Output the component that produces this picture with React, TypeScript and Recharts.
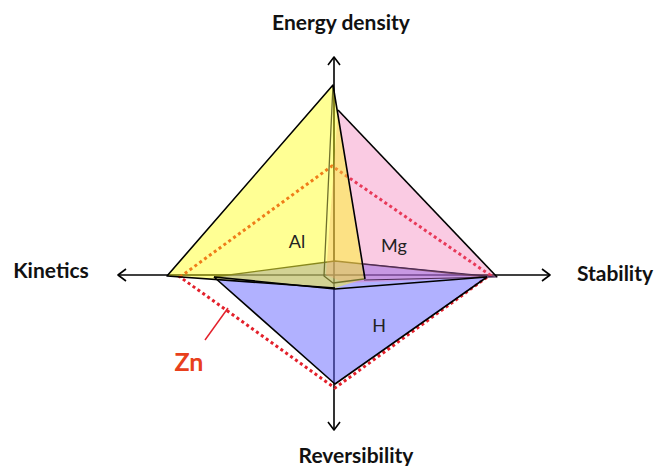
import React from 'react';
import { ScatterChart, Scatter, XAxis, YAxis } from 'recharts';

type Pt = { x: number; y: number };

// origin = crossing of the four axes, one unit = one pixel, y points up
const axisUp: Pt[] = [{ x: 0, y: 218 }, { x: 0, y: 0 }];
const axisDown: Pt[] = [{ x: 0, y: 0 }, { x: 0, y: -155 }];
const axisLeft: Pt[] = [{ x: -216, y: 0 }, { x: 0, y: 0 }];
const axisRight: Pt[] = [{ x: 0, y: 0 }, { x: 216, y: 0 }];
const arrowUp: Pt[] = [{ x: -6, y: 210 }, { x: 0, y: 218 }, { x: 6, y: 210 }];
const arrowDown: Pt[] = [{ x: -6, y: -147 }, { x: 0, y: -155 }, { x: 6, y: -147 }];
const arrowLeft: Pt[] = [{ x: -208, y: 6 }, { x: -216, y: 0 }, { x: -208, y: -6 }];
const arrowRight: Pt[] = [{ x: 208, y: 6 }, { x: 216, y: 0 }, { x: 208, y: -6 }];

// Zn: kinetics, energy density, stability, reversibility
const zn: Pt[] = [
  { x: -154, y: -2 },
  { x: -2, y: 109 },
  { x: 156, y: 0 },
  { x: 1, y: -113 },
];
const znPointer: Pt[] = [{ x: -106, y: -33 }, { x: -129, y: -65 }];

// H
const hBody: Pt[] = [
  { x: -120, y: -2 },
  { x: 1, y: 14 },
  { x: 153, y: -2 },
  { x: 1, y: -109 },
];
const hTop: Pt[] = [{ x: -120, y: -2 }, { x: 1, y: 14 }, { x: 153, y: -2 }];
const hFront: Pt[] = [{ x: -120, y: -2 }, { x: 1, y: -14 }, { x: 153, y: -2 }];
const hBottom: Pt[] = [{ x: -120, y: -2 }, { x: 1, y: -109 }, { x: 153, y: -2 }];

// Mg
const mgBody: Pt[] = [
  { x: 4, y: 165 },
  { x: 163, y: -2 },
  { x: 11, y: -8 },
  { x: -8, y: 0 },
];
const mgOuter: Pt[] = [{ x: 4, y: 165 }, { x: 163, y: -2 }];
const mgBase: Pt[] = [{ x: 30, y: 11 }, { x: 163, y: -2 }, { x: 30, y: -5 }];

// Al
const alBody: Pt[] = [
  { x: -167, y: -1 },
  { x: -1, y: 190 },
  { x: 30, y: -4 },
  { x: 1, y: -13 },
];
const alOuter: Pt[] = [{ x: 1, y: -13 }, { x: -167, y: -1 }, { x: -1, y: 190 }, { x: 31, y: -4 }];
const alSpike: Pt[] = [{ x: -1, y: 190 }, { x: -10, y: -1 }, { x: -1, y: -8 }, { x: 30, y: -4 }];

const axisTitles = [
  { x: 7, y: 245, label: 'Energy density' },
  { x: -283, y: -3, label: 'Kinetics' },
  { x: 281, y: -6, label: 'Stability' },
  { x: 22, y: -188, label: 'Reversibility' },
];
const seriesNames = [
  { x: -37, y: 27, label: 'Al' },
  { x: 60, y: 23, label: 'Mg' },
  { x: 45, y: -57, label: 'H' },
];
const znName = [{ x: -145, y: -96, label: 'Zn' }];

const Hidden = () => <g />;

function poly(style: React.SVGProps<SVGPolygonElement>, closed = false) {
  return (p: any) => {
    const pts = (p.points || []).map((q: Pt) => `${q.x},${q.y}`).join(' ');
    return closed ? (
      <polygon points={pts} {...style} />
    ) : (
      <polyline points={pts} fill="none" strokeLinejoin="round" {...style} />
    );
  };
}

function textShape(style: React.SVGProps<SVGTextElement>) {
  return (p: any) => (
    <text x={p.cx} y={p.cy} textAnchor="middle" {...style}>
      {p.payload?.label}
    </text>
  );
}

const black = { stroke: '#000', strokeWidth: 1.6 };
const olive = { stroke: '#6f6f2c', strokeWidth: 1.3 };

export default function App() {
  const items: [Pt[], any][] = [
    [axisUp, poly(black)],
    [axisDown, poly(black)],
    [axisLeft, poly(black)],
    [axisRight, poly(black)],
    [arrowUp, poly(black)],
    [arrowDown, poly(black)],
    [arrowLeft, poly(black)],
    [arrowRight, poly(black)],
    [zn, poly({ fill: 'none', stroke: '#e3202b', strokeWidth: 3, strokeDasharray: '3 3' }, true)],
    [hBody, poly({ fill: '#6464ff', fillOpacity: 0.5, stroke: 'none' }, true)],
    [hTop, poly({ stroke: '#333', strokeWidth: 1.3 })],
    [mgBody, poly({ fill: '#f06ab0', fillOpacity: 0.35, stroke: 'none' }, true)],
    [mgBase, poly({ stroke: '#4a2a55', strokeWidth: 1.2 })],
    [mgOuter, poly(black)],
    [alBody, poly({ fill: '#ffff00', fillOpacity: 0.42, stroke: 'none' }, true)],
    [alSpike, poly(olive)],
    [alOuter, poly(black)],
    [hFront, poly(black)],
    [hBottom, poly(black)],
    [znPointer, poly({ stroke: '#e3202b', strokeWidth: 1.5 })],
  ];

  return (
    <div style={{ position: 'absolute', left: 0, top: 0, width: 660, height: 466, background: '#fff' }}>
      <ScatterChart width={660} height={466} margin={{ top: 0, right: 0, bottom: 0, left: 0 }}>
        <XAxis type="number" dataKey="x" domain={[-334, 326]} hide allowDataOverflow />
        <YAxis type="number" dataKey="y" domain={[-191, 275]} hide allowDataOverflow />
        {items.map(([data, line], i) => (
          <Scatter
            key={i}
            data={data}
            line={line}
            lineType="joint"
            shape={Hidden}
            isAnimationActive={false}
          />
        ))}
        <Scatter
          data={axisTitles}
          shape={textShape({ fontFamily: 'Lato', fontWeight: 700, fontSize: 21, fill: '#111' })}
          isAnimationActive={false}
        />
        <Scatter
          data={seriesNames}
          shape={textShape({ fontFamily: 'Lato', fontSize: 18, fill: '#222' })}
          isAnimationActive={false}
        />
        <Scatter
          data={znName}
          shape={textShape({ fontFamily: 'Lato', fontWeight: 700, fontSize: 25, fill: '#e8401c' })}
          isAnimationActive={false}
        />
      </ScatterChart>
    </div>
  );
}
